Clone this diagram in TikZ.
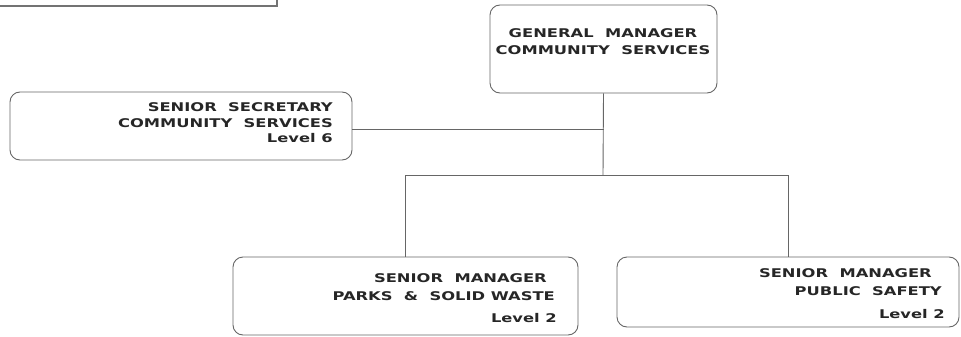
\documentclass[tikz,border=0pt]{standalone}
\usepackage{fontspec}
\setmainfont{DejaVu Sans}
\newfontfamily\orglabelfont[FakeStretch=1.36]{DejaVu Sans}
\begin{document}
\begin{tikzpicture}[x=1pt,y=-1pt,
  orgbox/.style={draw=black!60, line width=0.9pt, rounded corners=10pt, inner sep=0pt},
  lbl/.style={font=\orglabelfont\bfseries\fontsize{12}{13}\selectfont, text=black!85, inner sep=0pt},
  link/.style={draw=black!60, line width=0.9pt}]
\useasboundingbox (0,0) rectangle (961,337);
\begin{scope}
\clip (0,0) rectangle (961,337);
% frame at the top edge, mostly off the page
\draw[black!55, line width=1.6pt] (-5,-30) rectangle (277,6);
\end{scope}

% boxes
\node[orgbox, minimum width=227pt, minimum height=88pt] (gm)  at (603.5,49) {};
\node[orgbox, minimum width=342pt, minimum height=68pt] (sec) at (181,126) {};
\node[orgbox, minimum width=345pt, minimum height=78pt] (pk)  at (405.5,296) {};
\node[orgbox, minimum width=342pt, minimum height=70pt] (ps)  at (788,292) {};

% labels
\node[lbl, anchor=base] (gm1) at (603,38) {GENERAL\ \ MANAGER};
\node[lbl, anchor=base] (gm2) at (603,55) {COMMUNITY\ \ SERVICES};

\node[lbl, anchor=base east] (sec1) at (333,111) {SENIOR\ \ SECRETARY};
\node[lbl, anchor=base east] (sec2) at (333,127) {COMMUNITY\ \ SERVICES};
\node[lbl, anchor=base east] (sec3) at (333,142) {Level 6};

\node[lbl, anchor=base east] (pk1) at (547,282) {SENIOR\ \ MANAGER};
\node[lbl, anchor=base east] (pk2) at (555,300) {PARKS\ \ \&\ \ SOLID WASTE};
\node[lbl, anchor=base east] (pk3) at (557,322) {Level 2};

\node[lbl, anchor=base east] (ps1) at (932,277) {SENIOR\ \ MANAGER};
\node[lbl, anchor=base east] (ps2) at (942,295) {PUBLIC\ \ SAFETY};
\node[lbl, anchor=base east] (ps3) at (945,318) {Level 2};

% connectors
\coordinate (bus) at (603,175);
\coordinate (secout) at ([yshift=-3pt]sec.east);
\draw[link] (gm.south) -- (bus);
\draw[link] (secout) -- (secout -| gm.south);
\draw[link] (pk.north |- bus) -- (ps.north |- bus);
\draw[link] (pk.north |- bus) -- (pk.north);
\draw[link] (ps.north |- bus) -- (ps.north);
\end{tikzpicture}
\end{document}
